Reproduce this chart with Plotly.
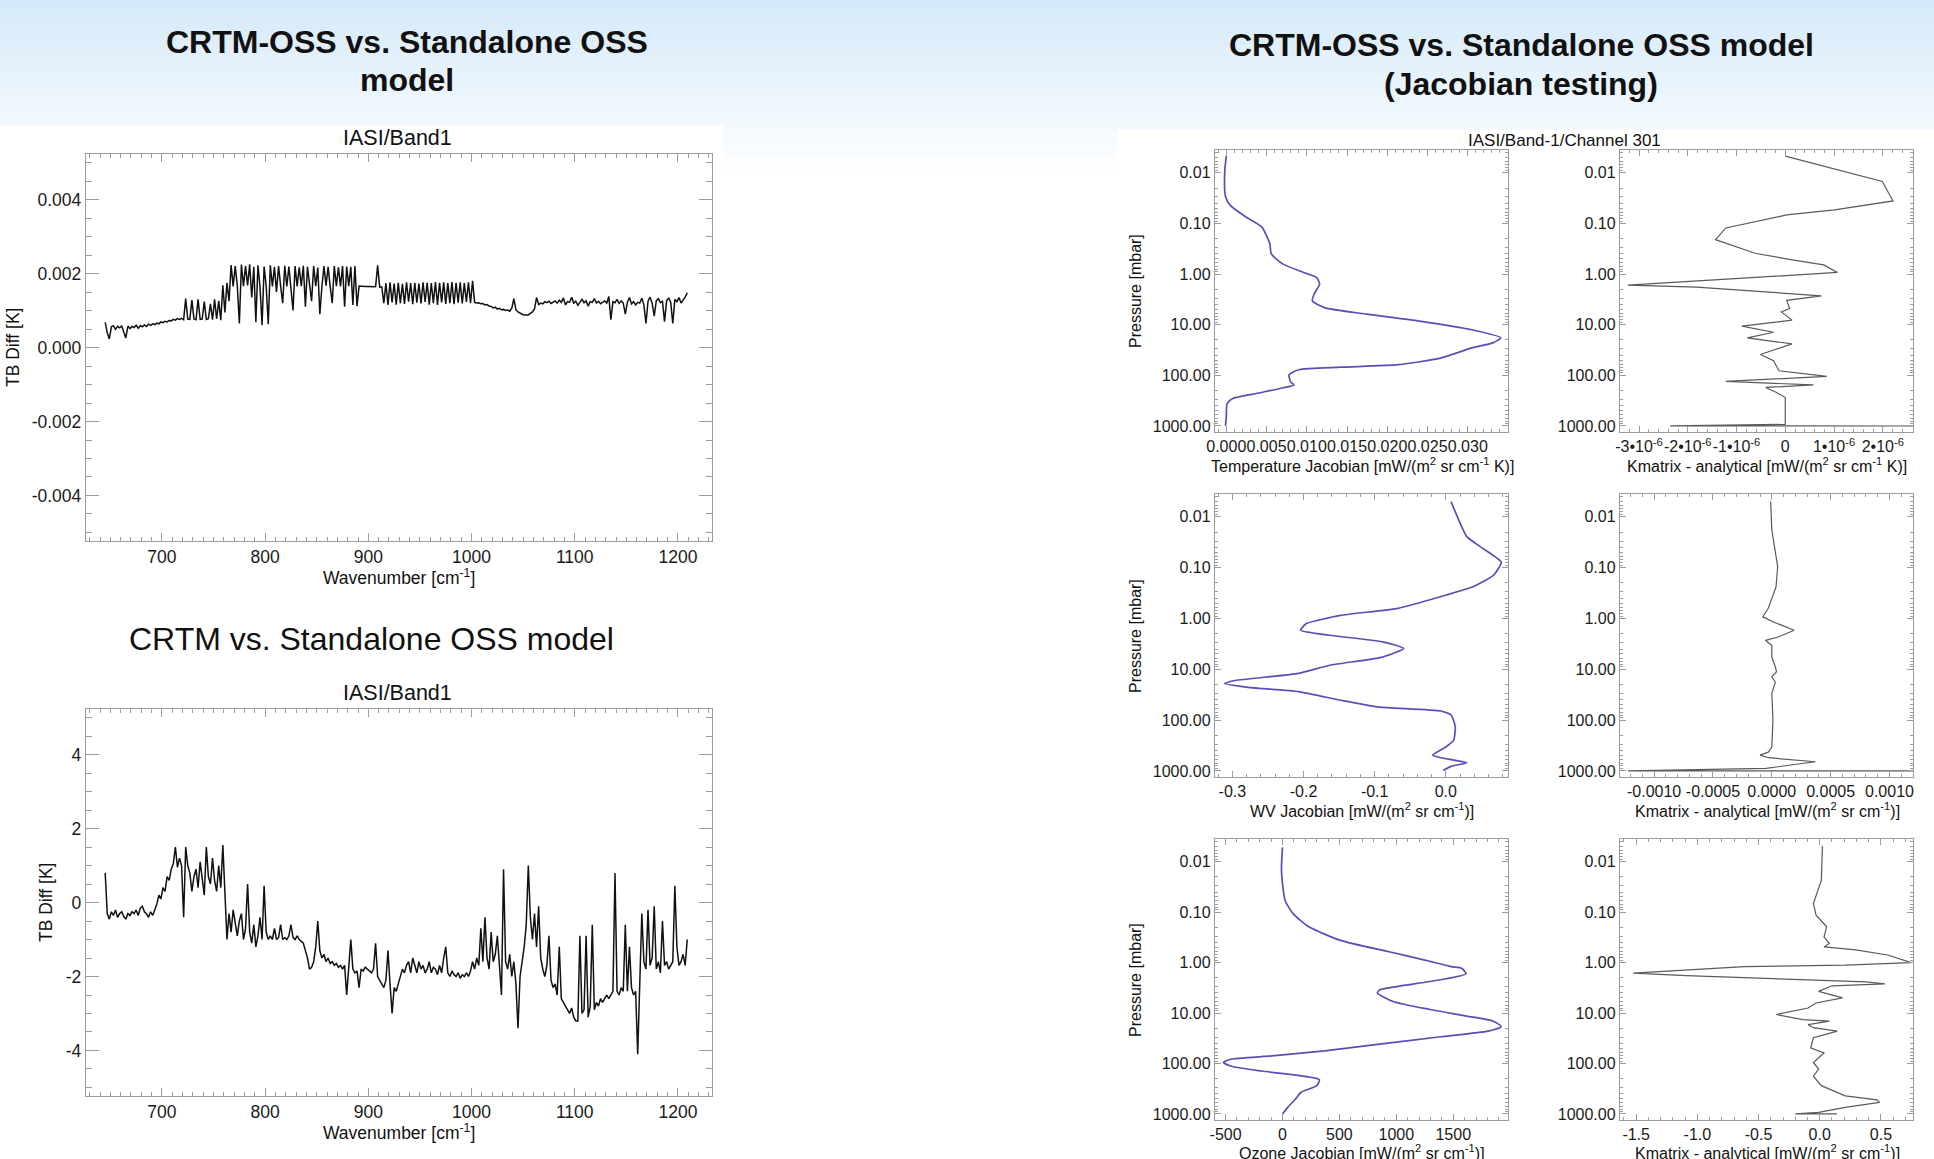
import plotly.graph_objects as go

W, H = 1934, 1159
FONT = "Liberation Sans, Arial, Helvetica, sans-serif"
GRAY = "#9c9c9c"

# ---------------- data: IASI band-1 spectra ----------------
wavenumber = list(range(645, 1211, 2))  # cm-1

# CRTM-OSS minus standalone OSS, units of 1e-4 K
tb_diff_oss_1e4 = [
    6.8, 4.0, 2.3, 5.6, 5.9, 4.9, 5.7, 5.3, 5.8, 4.4,
    2.6, 5.8, 5.1, 5.7, 5.4, 6.0, 5.2, 5.9, 5.6, 6.1,
    5.7, 6.3, 6.0, 6.4, 6.2, 6.6, 6.4, 6.9, 6.7, 7.1,
    6.9, 7.3, 7.2, 7.6, 7.4, 7.8, 7.6, 7.9, 7.5, 13.2,
    7.7, 7.6, 12.8, 7.7, 7.5, 13.0, 7.6, 7.7, 12.4, 7.6,
    7.8, 11.8, 7.5, 13.0, 7.7, 12.6, 7.4, 16.8, 9.5, 17.5,
    12.5, 22.3, 16.5, 22.0, 16.7, 6.5, 22.4, 16.6, 22.0, 16.8,
    22.5, 13.5, 21.8, 6.8, 22.2, 16.5, 6.0, 21.9, 16.6, 6.3,
    22.2, 16.5, 21.8, 15.0, 22.0, 16.6, 12.0, 22.1, 16.5, 21.9,
    16.7, 10.0, 22.0, 16.5, 21.7, 16.6, 22.1, 11.0, 21.8, 16.5,
    12.5, 22.0, 16.6, 21.6, 9.0, 16.5, 22.0, 16.7, 21.8, 16.5,
    12.0, 22.0, 16.6, 21.7, 16.5, 22.0, 11.0, 21.9, 16.6, 21.8,
    11.5, 22.0, 11.2, 16.6, 16.5, 16.6, 16.5, 16.5, 16.5, 16.4,
    16.5, 16.4, 22.2, 16.3, 16.4, 12.0, 17.4, 11.5, 17.6, 12.2,
    17.3, 11.6, 17.5, 12.0, 17.2, 11.8, 17.6, 12.4, 17.4, 11.7,
    17.5, 12.1, 17.3, 11.9, 17.6, 12.3, 17.5, 11.6, 17.4, 12.0,
    17.7, 11.5, 17.5, 12.2, 17.6, 11.8, 17.4, 12.0, 17.7, 11.7,
    17.5, 12.1, 17.6, 11.9, 17.4, 12.3, 17.6, 12.0, 18.0, 12.2,
    12.0, 12.1, 11.8, 11.9, 11.5, 11.6, 11.2, 11.1, 10.7, 10.9,
    10.4, 10.6, 10.2, 10.3, 10.0, 10.1, 9.8, 10.6, 13.2, 10.2,
    9.6, 9.2, 9.0, 8.8, 8.9, 8.8, 9.2, 9.6, 10.4, 13.5,
    11.6, 12.0, 11.8, 12.4, 12.1, 12.5, 11.9, 12.3, 12.6, 12.0,
    12.8, 12.2, 13.4, 11.5, 12.4, 12.2, 13.6, 12.0, 12.5, 11.4,
    12.3, 13.0, 12.1, 12.6, 11.2, 12.4, 12.2, 13.2, 12.0, 12.5,
    11.8, 12.3, 12.6, 12.0, 13.8, 7.5, 12.4, 12.1, 13.0, 11.9,
    12.6, 12.0, 9.0, 12.2, 13.5, 11.8, 12.4, 11.5, 12.2, 12.0,
    13.3, 11.6, 6.5, 12.5, 13.6, 12.0, 8.5, 12.6, 13.2, 12.1,
    12.5, 7.0, 12.6, 13.4, 12.2, 6.5, 13.0, 12.4, 13.5, 12.0,
    12.8, 13.6, 14.8,
]

# CRTM minus standalone OSS, K
tb_diff_crtm = [
    0.8, -0.3, -0.45, -0.25, -0.35, -0.2, -0.4, -0.3, -0.25, -0.38,
    -0.45, -0.3, -0.35, -0.25, -0.3, -0.2, -0.35, -0.15, -0.1, -0.25,
    -0.3, -0.4, -0.25, -0.35, -0.2, -0.05, 0.2, 0.1, 0.4, 0.3,
    0.7, 0.6, 0.9, 1.05, 1.5, 0.95, 1.2, 1.0, -0.4, 1.5,
    1.0, 0.8, 0.3, 0.7, 0.9, 0.4, 1.1, 0.6, 0.2, 1.5,
    0.7, 0.5, 1.2, 0.6, 0.3, 1.0, 0.4, 1.55, 0.0, -1.0,
    -0.3, -0.8, -0.2, -0.6, -0.9, -0.5, -0.3, -1.0, -0.7, 0.5,
    -0.8, -1.1, -0.6, -1.2, -0.9, -0.4, -1.0, 0.45, -0.8, -1.0,
    -0.9, -1.0, -0.7, -1.0, -0.95, -0.6, -1.0, -0.95, -1.0, -0.9,
    -0.6, -0.95, -1.0, -0.9, -1.0, -1.05, -1.1, -1.3, -1.5, -1.8,
    -1.75, -1.6, -1.2, -0.5, -1.3, -1.5, -1.4, -1.6, -1.5, -1.65,
    -1.6, -1.7, -1.65, -1.75, -1.7, -1.8, -1.7, -2.5, -1.8, -1.0,
    -1.8, -1.9, -1.85, -2.3, -1.8, -1.85, -1.75, -1.8, -1.85, -1.9,
    -1.8, -1.1, -2.0, -2.1, -2.2, -2.3, -2.1, -1.3, -2.2, -3.0,
    -2.3, -2.4, -2.2, -2.0, -1.8, -1.9, -1.7, -1.6, -1.9, -1.5,
    -1.7, -1.9, -1.6, -1.8, -1.7, -1.9, -1.8, -1.6, -1.9, -1.75,
    -1.8, -1.95, -1.7, -1.9, -1.5, -1.2, -1.9, -2.0, -1.85, -1.95,
    -2.0, -1.9, -2.05, -1.95, -2.0, -1.9, -2.0, -1.85, -1.6, -1.8,
    -1.5, -1.7, -0.7, -1.6, -0.4, -1.5, -1.8, -0.8, -1.6, -1.4,
    -0.9, -1.7, -2.5, 0.9, -1.6, -1.8, -1.4, -2.0, -1.6, -2.2,
    -3.4, -2.0, -1.6, -1.2, -0.6, 1.0, -0.4, -1.0, -0.3, -1.2,
    -0.1, -1.5, -1.8, -2.0, -1.7, -0.9, -2.1, -2.3, -2.2, -2.5,
    -1.2, -2.6, -2.7, -2.8, -2.9, -3.0, -2.85, -3.1, -3.2, -3.2,
    -0.9, -3.0, -2.9, -0.9, -3.1, -2.8, -0.6, -2.9, -2.7, -2.8,
    -2.6, -2.7, -2.6, -2.5, -2.6, -2.5, -2.4, 0.8, -2.4, -2.5,
    -2.3, -2.4, -0.6, -2.4, -1.2, -2.3, -2.5, -2.4, -4.1, -2.2,
    -0.3, -1.6, -1.8, -0.2, -1.7, -1.5, -0.1, -1.8, -1.6, -1.9,
    -0.5, -1.7, -1.6, -1.8, -1.7, -1.6, 0.45, -1.2, -1.7, -1.6,
    -1.4, -1.7, -1.0,
]

# ---------------- data: Jacobian profiles (IASI channel 301) ----------------
temp_jac_p = [0.0047, 0.010, 0.029, 0.044, 0.074, 0.117, 0.25, 0.40, 0.63, 0.93,
              1.17, 1.58, 2.5, 3.4, 4.6, 6.2, 8.5, 12.6, 18.2, 22.9,
              28.8, 45.7, 61.7, 69.2, 77.6, 97.7, 135, 155, 178, 229,
              288, 363, 661, 1000]
temp_jac = [0.0, -0.0002, -0.0001, 0.0005, 0.0024, 0.0044, 0.0054, 0.0056, 0.0070, 0.0096,
            0.0112, 0.0116, 0.0109, 0.0107, 0.0122, 0.0175, 0.0240, 0.0305, 0.0341, 0.0331,
            0.0305, 0.0266, 0.0214, 0.0142, 0.0090, 0.0078, 0.0080, 0.0084, 0.0070, 0.0037,
            0.0008, 0.0001, 0.0, -0.0001]

temp_kdiff_p = [0.0047, 0.0148, 0.036, 0.054, 0.068, 0.123, 0.209, 0.389, 0.525, 0.66,
                0.93, 1.23, 1.66, 1.82, 2.24, 2.69, 3.31, 4.79, 5.62, 8.13,
                10.7, 14.1, 18.2, 24.0, 38.9, 51.3, 81.3, 105, 132, 155,
                174, 219, 275, 933, 1000, 1003]
temp_kdiff = [0.0, 1.99e-6, 2.21e-6, 1.01e-6, 0.03e-6, -1.22e-6, -1.43e-6, -0.62e-6, 0.14e-6, 0.79e-6,
              1.07e-6, -0.95e-6, -3.23e-6, -1.82e-6, -0.40e-6, 0.74e-6, 0.03e-6, 0.09e-6, -0.08e-6, 0.14e-6,
              -0.89e-6, -0.24e-6, -0.78e-6, 0.14e-6, -0.51e-6, -0.24e-6, -0.13e-6, 0.85e-6, -1.22e-6, 0.58e-6,
              -0.40e-6, -0.18e-6, 0.0, 0.0, -2.36e-6, 2.7e-6]

wv_jac_p = [0.0050, 0.0245, 0.0417, 0.0776, 0.141, 0.240, 0.372, 0.631, 0.871, 1.26,
            1.70, 2.14, 2.88, 3.89, 5.75, 8.32, 12.0, 16.6, 19.1, 22.4,
            27.5, 40.7, 55.0, 66.1, 79.4, 135, 251, 339, 490, 550,
            692, 813, 977]
wv_jac = [0.0074, 0.0296, 0.052, 0.078, 0.067, 0.037, -0.0074, -0.067, -0.148, -0.196,
          -0.204, -0.163, -0.089, -0.059, -0.089, -0.163, -0.207, -0.296, -0.311, -0.281,
          -0.207, -0.148, -0.096, -0.007, 0.0074, 0.0133, 0.011, 0.0, -0.0185, -0.0074,
          0.0296, 0.0074, -0.0037]

wv_kdiff_p = [0.005, 0.018, 0.095, 0.24, 0.63, 0.93, 1.17, 1.70, 2.29, 2.69,
              3.39, 5.75, 8.9, 11.2, 14.1, 17.8, 30.2, 100, 339, 427,
              490, 550, 661, 813, 891, 995, 1000]
wv_kdiff = [-1e-5, 0.0, 5e-5, 3.6e-5, -3e-5, -7.7e-5, 1.4e-5, 1.9e-4, 6e-5, -5.4e-5,
            0.0, 0.0, 3e-5, 4e-5, 0.0, 3e-5, 0.0, 1e-5, 0.0, -3e-5,
            -1e-4, -3e-5, 3.7e-4, 8e-5, -5e-5, -1.22e-3, 1.25e-3]

o3_jac_p = [0.0052, 0.0151, 0.0589, 0.107, 0.195, 0.363, 0.603, 0.891, 1.20, 1.29,
            1.66, 2.19, 2.95, 3.47, 3.98, 5.89, 8.51, 11.5, 14.5, 18.6,
            22.9, 29.5, 41.7, 56.2, 70.8, 83.2, 95.5, 115, 141, 178,
            209, 275, 372, 501, 741, 1000]
o3_jac = [0, -9, 23, 93, 231, 509, 926, 1250, 1481, 1574,
          1611, 1389, 1019, 856, 833, 972, 1296, 1620, 1852, 1921,
          1806, 1389, 833, 370, -93, -463, -519, -440, -185, 185,
          324, 301, 162, 116, 46, 0]

o3_kdiff_p = [0.0049, 0.0234, 0.0676, 0.115, 0.195, 0.309, 0.417, 0.490, 0.562, 0.708,
              1.0, 1.12, 1.20, 1.62, 1.82, 2.14, 2.40, 2.63, 2.88, 3.72,
              5.01, 6.31, 7.94, 10.7, 13.5, 14.5, 17.0, 19.5, 22.9, 30.9,
              49.0, 61.7, 95.5, 129, 178, 275, 437, 525, 589, 741,
              933, 1000, 1000]
o3_kdiff = [0.022, 0.013, -0.052, -0.03, 0.056, 0.035, 0.078, 0.035, 0.294, 0.554,
            0.749, 0.208, -0.615, -1.524, -1.09, -0.225, 0.38, 0.532, 0.1, -0.009,
            0.186, -0.03, -0.095, -0.355, -0.139, 0.078, -0.095, -0.052, 0.143, -0.052,
            -0.074, 0.035, -0.052, -0.009, -0.052, 0.013, 0.208, 0.468, 0.489, 0.208,
            -0.009, -0.2, 0.14]

# ---------------- tick labels ----------------
wn_ticks = [700, 800, 900, 1000, 1100, 1200]
oss_ticks = [-0.004, -0.002, 0.0, 0.002, 0.004]
oss_ticktext = ["-0.004", "-0.002", "0.000", "0.002", "0.004"]
crtm_ticks = [-4, -2, 0, 2, 4]
crtm_ticktext = ["-4", "-2", "0", "2", "4"]
p_ticks = [0.01, 0.1, 1, 10, 100, 1000]
p_ticktext = ["0.01", "0.10", "1.00", "10.00", "100.00", "1000.00"]
tj_ticks = [0.0, 0.005, 0.010, 0.015, 0.020, 0.025, 0.030]
tj_ticktext = ["0.000", "0.005", "0.010", "0.015", "0.020", "0.025", "0.030"]
tk_ticks = [-3e-6, -2e-6, -1e-6, 0.0, 1e-6, 2e-6]
tk_ticktext = ["-3•10<sup>-6</sup>", "-2•10<sup>-6</sup>", "-1•10<sup>-6</sup>", "0",
               "1•10<sup>-6</sup>", "2•10<sup>-6</sup>"]
wj_ticks = [-0.3, -0.2, -0.1, 0.0]
wj_ticktext = ["-0.3", "-0.2", "-0.1", "0.0"]
wk_ticks = [-0.001, -0.0005, 0.0, 0.0005, 0.001]
wk_ticktext = ["-0.0010", "-0.0005", "0.0000", "0.0005", "0.0010"]
oj_ticks = [-500, 0, 500, 1000, 1500]
oj_ticktext = ["-500", "0", "500", "1000", "1500"]
ok_ticks = [-1.5, -1.0, -0.5, 0.0, 0.5]
ok_ticktext = ["-1.5", "-1.0", "-0.5", "0.0", "0.5"]

LOG_MINOR = [m * 10.0 ** e for e in range(-3, 4) for m in range(2, 10)]


def fx(x):
    return x / W


def fy(y):
    return 1 - y / H


def axis(dom, rng, vals, text, tlen, anchor, fs, minor_dtick=None, log=False):
    a = dict(domain=dom, range=rng, anchor=anchor, tickmode="array", tickvals=vals,
             ticktext=text, ticks="inside", ticklen=tlen, tickwidth=1.2, tickcolor=GRAY,
             showline=True, linewidth=1.4, linecolor=GRAY, mirror="ticks",
             showgrid=False, zeroline=False, tickangle=0, automargin=False,
             tickfont=dict(family=FONT, size=fs, color="#1a1a1a"))
    if log:
        a["type"] = "log"
        a["minor"] = dict(tickmode="array", tickvals=LOG_MINOR, ticks="inside",
                          ticklen=tlen / 2, tickwidth=1, tickcolor=GRAY, showgrid=False)
    else:
        a["minor"] = dict(tickmode="linear", tick0=0, dtick=minor_dtick, ticks="inside",
                          ticklen=tlen / 2, tickwidth=1, tickcolor=GRAY, showgrid=False)
    return a


fig = go.Figure()

# left spectra
fig.add_trace(go.Scatter(x=wavenumber, y=[v * 1e-4 for v in tb_diff_oss_1e4], mode="lines",
                         line=dict(color="#111111", width=1.5), xaxis="x", yaxis="y"))
fig.add_trace(go.Scatter(x=wavenumber, y=tb_diff_crtm, mode="lines",
                         line=dict(color="#111111", width=1.5), xaxis="x2", yaxis="y2"))

JAC = dict(color="#5a4fb4", width=1.7)
KD = dict(color="#5a5a5a", width=1.2)
fig.add_trace(go.Scatter(x=temp_jac, y=temp_jac_p, mode="lines", line=dict(**JAC, shape="spline", smoothing=0.6),
                         xaxis="x3", yaxis="y3"))
fig.add_trace(go.Scatter(x=temp_kdiff, y=temp_kdiff_p, mode="lines", line=KD, xaxis="x4", yaxis="y4"))
fig.add_trace(go.Scatter(x=wv_jac, y=wv_jac_p, mode="lines", line=dict(**JAC, shape="spline", smoothing=0.5),
                         xaxis="x5", yaxis="y5"))
fig.add_trace(go.Scatter(x=wv_kdiff, y=wv_kdiff_p, mode="lines", line=KD, xaxis="x6", yaxis="y6"))
fig.add_trace(go.Scatter(x=o3_jac, y=o3_jac_p, mode="lines", line=dict(**JAC, shape="spline", smoothing=0.6),
                         xaxis="x7", yaxis="y7"))
fig.add_trace(go.Scatter(x=o3_kdiff, y=o3_kdiff_p, mode="lines", line=KD, xaxis="x8", yaxis="y8"))

# domains (pixel frames)
LX = [fx(86), fx(712)]
L1Y = [fy(541), fy(154)]
L2Y = [fy(1096), fy(709)]
C1X = [fx(1215), fx(1508)]
C2X = [fx(1620), fx(1913)]
R1Y = [fy(432), fy(150)]
R2Y = [fy(777), fy(494)]
R3Y = [fy(1120), fy(839)]
PR = [3.12, -2.45]

layout = dict(
    width=W, height=H, margin=dict(l=0, r=0, t=0, b=0, autoexpand=False), autosize=False,
    paper_bgcolor="white", plot_bgcolor="white", showlegend=False,
    font=dict(family=FONT, color="#1a1a1a"),
    xaxis=axis(LX, [626.4, 1233], wn_ticks, [str(v) for v in wn_ticks], 8, "y", 17.5, 10),
    yaxis=axis(L1Y, [-0.00523, 0.00523], oss_ticks, oss_ticktext, 12.5, "x", 17.5, 0.0005),
    xaxis2=axis(LX, [626.4, 1233], wn_ticks, [str(v) for v in wn_ticks], 8, "y2", 17.5, 10),
    yaxis2=axis(L2Y, [-5.23, 5.23], crtm_ticks, crtm_ticktext, 12.5, "x2", 17.5, 0.5),
    xaxis3=axis(C1X, [-0.0014, 0.035], tj_ticks, tj_ticktext, 6, "y3", 16, 0.001),
    yaxis3=axis(R1Y, PR, p_ticks, p_ticktext, 6, "x3", 16, log=True),
    xaxis4=axis(C2X, [-3.39e-6, 2.62e-6], tk_ticks, tk_ticktext, 6, "y4", 16, 2e-7),
    yaxis4=axis(R1Y, PR, p_ticks, p_ticktext, 6, "x4", 16, log=True),
    xaxis5=axis(C1X, [-0.3244, 0.0874], wj_ticks, wj_ticktext, 6, "y5", 16, 0.02),
    yaxis5=axis(R2Y, PR, p_ticks, p_ticktext, 6, "x5", 16, log=True),
    xaxis6=axis(C2X, [-0.00129, 0.0012], wk_ticks, wk_ticktext, 6, "y6", 16, 0.0001),
    yaxis6=axis(R2Y, PR, p_ticks, p_ticktext, 6, "x6", 16, log=True),
    xaxis7=axis(C1X, [-593, 1981], oj_ticks, oj_ticktext, 6, "y7", 16, 100),
    yaxis7=axis(R3Y, PR, p_ticks, p_ticktext, 6, "x7", 16, log=True),
    xaxis8=axis(C2X, [-1.632, 0.762], ok_ticks, ok_ticktext, 6, "y8", 16, 0.1),
    yaxis8=axis(R3Y, PR, p_ticks, p_ticktext, 6, "x8", 16, log=True),
)
fig.update_layout(**layout)

# background: slide gradient + white picture boxes
shapes = []
n = 34
top, bot = (213, 234, 249), (253, 254, 255)
for i in range(n):
    t = i / (n - 1)
    c = tuple(round(top[k] + (bot[k] - top[k]) * t) for k in range(3))
    shapes.append(dict(type="rect", xref="paper", yref="paper", x0=0, x1=1,
                       y0=fy(i * 5 + 5.5), y1=fy(i * 5),
                       fillcolor="rgb(%d,%d,%d)" % c, line=dict(width=0), layer="below"))
shapes.append(dict(type="rect", xref="paper", yref="paper", x0=0, x1=fx(723), y0=0, y1=fy(125),
                   fillcolor="white", line=dict(width=0), layer="below"))
shapes.append(dict(type="rect", xref="paper", yref="paper", x0=fx(1117), x1=1, y0=0, y1=fy(130),
                   fillcolor="white", line=dict(width=0), layer="below"))
shapes.append(dict(type="rect", xref="paper", yref="paper", x0=0, x1=1, y0=0, y1=fy(172),
                   fillcolor="white", line=dict(width=0), layer="below"))
fig.update_layout(shapes=shapes)


def ann(text, x, y, size, angle=0):
    return dict(text=text, x=fx(x), y=fy(y), xref="paper", yref="paper", showarrow=False,
                xanchor="center", yanchor="middle", textangle=angle,
                font=dict(family=FONT, size=size, color="#111111"))


UNIT = "[mW/(m<sup>2</sup> sr cm<sup>-1</sup>)]"
UNIT_K = "[mW/(m<sup>2</sup> sr cm<sup>-1</sup> K)]"
anns = [
    ann("<b>CRTM-OSS vs. Standalone OSS</b>", 407, 42, 32),
    ann("<b>model</b>", 407, 80, 32),
    ann("<b>CRTM-OSS vs. Standalone OSS model</b>", 1521, 45, 32),
    ann("<b>(Jacobian testing)</b>", 1521, 84, 32),
    ann("CRTM vs. Standalone OSS model", 371, 639, 32),
    ann("IASI/Band1", 397, 138, 21.5),
    ann("IASI/Band1", 397, 693, 21.5),
    ann("Wavenumber [cm<sup>-1</sup>]", 399, 577, 17.5),
    ann("Wavenumber [cm<sup>-1</sup>]", 399, 1132, 17.5),
    ann("TB Diff [K]", 13, 348, 17.5, -90),
    ann("TB Diff [K]", 46, 903, 17.5, -90),
    ann("IASI/Band-1/Channel 301", 1564, 140, 17),
    ann("Pressure [mbar]", 1135, 291, 16, -90),
    ann("Pressure [mbar]", 1135, 636, 16, -90),
    ann("Pressure [mbar]", 1135, 980, 16, -90),
    ann("Temperature Jacobian " + UNIT_K, 1362, 465, 16),
    ann("Kmatrix - analytical " + UNIT_K, 1767, 465, 16),
    ann("WV Jacobian " + UNIT, 1362, 810, 16),
    ann("Kmatrix - analytical " + UNIT, 1767, 810, 16),
    ann("Ozone Jacobian " + UNIT, 1362, 1152, 16),
    ann("Kmatrix - analytical " + UNIT, 1767, 1152, 16),
]
fig.update_layout(annotations=anns)

POST = (
    "document.documentElement.style.margin='0';"
    "document.body.style.margin='0';"
    "document.body.style.padding='0';"
    "document.body.style.overflow='hidden';"
    "var gd=document.getElementById('{plot_id}');"
    "gd.style.position='absolute';gd.style.left='0px';gd.style.top='0px';"
    "Plotly.relayout(gd,{width:%d,height:%d});" % (W, H)
)
fig.write_html("out.html", post_script=POST)
